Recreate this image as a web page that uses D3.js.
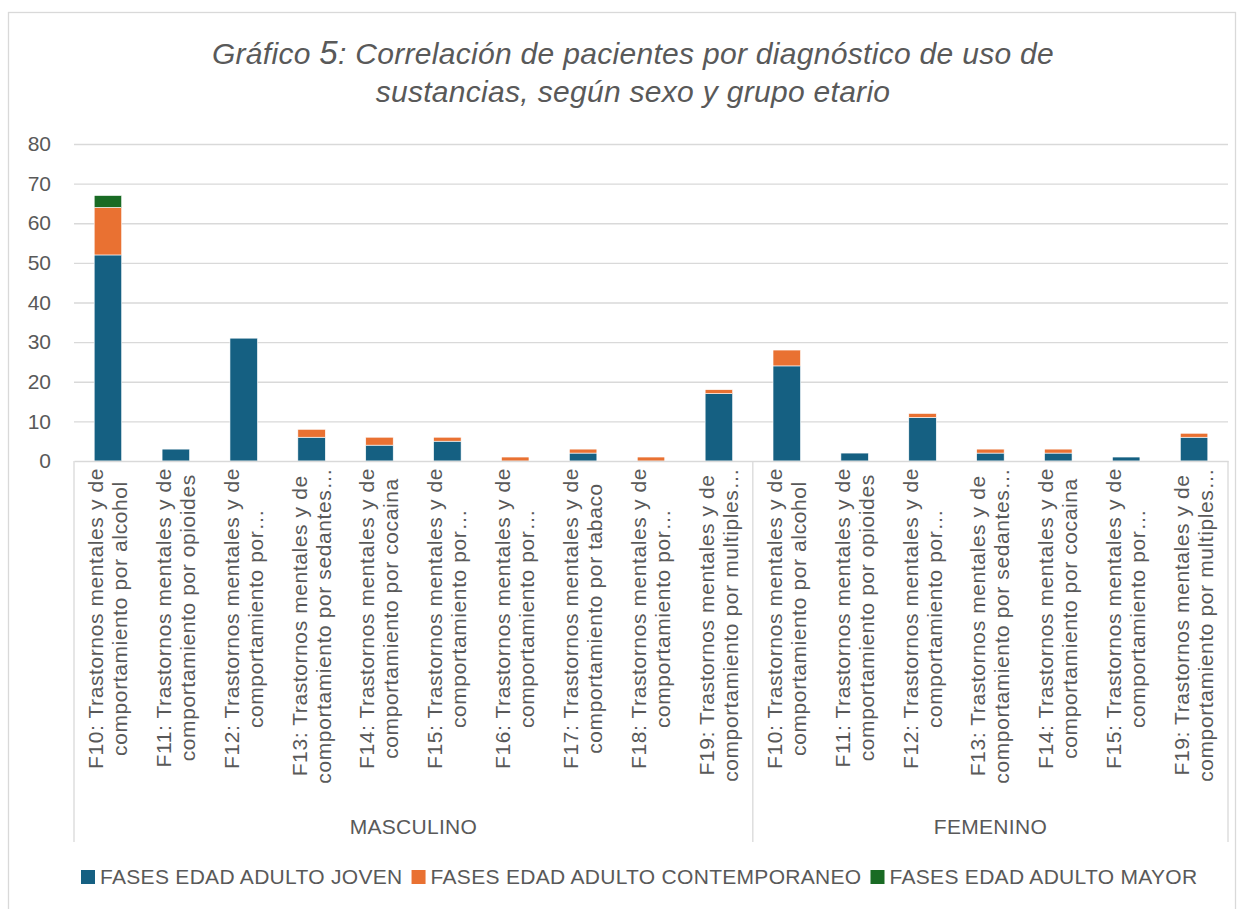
<!DOCTYPE html>
<html>
<head>
<meta charset="utf-8">
<script src="https://cdn.jsdelivr.net/npm/d3@7"></script>
<style>
  body { margin: 0; background: #fff; }
  text { font-family: "Liberation Sans", Arial, sans-serif; fill: #595959; }
  .grid line { stroke: #d9d9d9; stroke-width: 1.3; }
  .grid path { display: none; }
</style>
</head>
<body>
<script>
// category labels (two lines each), grouped by sexo
var labelLines = [
  ["F10: Trastornos mentales y de", "comportamiento por alcohol"],
  ["F11: Trastornos mentales y de", "comportamiento por opioides"],
  ["F12: Trastornos mentales y de", "comportamiento por\u2026"],
  ["F13: Trastornos mentales y de", "comportamiento por sedantes\u2026"],
  ["F14: Trastornos mentales y de", "comportamiento por cocaina"],
  ["F15: Trastornos mentales y de", "comportamiento por\u2026"],
  ["F16: Trastornos mentales y de", "comportamiento por\u2026"],
  ["F17: Trastornos mentales y de", "comportamiento por  tabaco"],
  ["F18: Trastornos mentales y de", "comportamiento por\u2026"],
  ["F19: Trastornos mentales y de", "comportamiento por multiples\u2026"],
  ["F10: Trastornos mentales y de", "comportamiento por alcohol"],
  ["F11: Trastornos mentales y de", "comportamiento por opioides"],
  ["F12: Trastornos mentales y de", "comportamiento por\u2026"],
  ["F13: Trastornos mentales y de", "comportamiento por sedantes\u2026"],
  ["F14: Trastornos mentales y de", "comportamiento por cocaina"],
  ["F15: Trastornos mentales y de", "comportamiento por\u2026"],
  ["F19: Trastornos mentales y de", "comportamiento por multiples\u2026"]
];
var groups = ["MASCULINO", "FEMENINO"];
var groupSizes = [10, 7];

var seriesNames = ["FASES EDAD ADULTO JOVEN", "FASES EDAD ADULTO CONTEMPORANEO", "FASES EDAD ADULTO MAYOR"];
var seriesColors = ["#156082", "#e97132", "#196b24"];

var joven         = [52, 3, 31, 6, 4, 5, 0, 2, 0, 17, 24, 2, 11, 2, 2, 1, 6];
var contemporaneo = [12, 0, 0, 2, 2, 1, 1, 1, 1, 1, 4, 0, 1, 1, 1, 0, 1];
var mayor         = [3, 0, 0, 0, 0, 0, 0, 0, 0, 0, 0, 0, 0, 0, 0, 0, 0];

var yTicks = [0, 10, 20, 30, 40, 50, 60, 70, 80];

var W = 1245, H = 909;
var plot = {left: 74, right: 1228, top: 144, bottom: 461};

var svg = d3.select("body").append("svg")
    .attr("width", W)
    .attr("height", H);

// chart border
svg.append("rect")
    .attr("x", 8.5).attr("y", 12.5)
    .attr("width", 1227).attr("height", 910)
    .attr("fill", "#fff")
    .attr("stroke", "#d9d9d9")
    .attr("stroke-width", 1.3);

// title
var title = svg.append("text")
    .attr("x", 633)
    .attr("text-anchor", "middle")
    .style("font-style", "italic")
    .style("font-size", "30px")
    .style("letter-spacing", "0.3px");
var t1 = title.append("tspan").attr("x", 633).attr("y", 64);
t1.append("tspan").text("Gráfico ");
t1.append("tspan").style("font-size", "33px").text("5");
t1.append("tspan").text(": Correlación de pacientes por diagnóstico de uso de");
title.append("tspan").attr("x", 633).attr("y", 102)
    .text("sustancias, según sexo y grupo etario");

var table = joven.map(function(d, i) {
  return {i: i, joven: d, contemporaneo: contemporaneo[i], mayor: mayor[i]};
});

var x = d3.scaleBand()
    .domain(d3.range(joven.length))
    .range([plot.left, plot.right])
    .paddingInner(0.595)
    .paddingOuter(0.2975);

var y = d3.scaleLinear()
    .domain([0, 80])
    .range([plot.bottom, plot.top]);

// gridlines
svg.append("g")
    .attr("class", "grid")
    .attr("transform", "translate(" + plot.left + ",0)")
    .call(d3.axisLeft(y).tickValues(yTicks.slice(1))
        .tickSize(-(plot.right - plot.left)).tickFormat(""));

// y axis labels
var yAxis = svg.append("g")
    .attr("transform", "translate(" + (plot.left - 23) + ",0)")
    .call(d3.axisLeft(y).tickValues(yTicks).tickSize(0).tickPadding(0));
yAxis.select(".domain").remove();
yAxis.selectAll("text")
    .style("font-size", "21px")
    .style("font-family", "'Liberation Sans', Arial, sans-serif")
    .attr("fill", "#595959");

// stacked bars
var stack = d3.stack().keys(["joven", "contemporaneo", "mayor"]);
var layers = stack(table);

svg.append("g").selectAll("g")
  .data(layers)
  .enter().append("g")
    .attr("fill", function(d, i) { return seriesColors[i]; })
  .selectAll("rect")
  .data(function(d) { return d.filter(function(s) { return s[1] - s[0] > 0; }); })
  .enter().append("rect")
    .attr("x", function(d) { return x(d.data.i); })
    .attr("y", function(d) { return y(d[1]); })
    .attr("width", x.bandwidth())
    .attr("height", function(d) { return y(d[0]) - y(d[1]); })
    .attr("stroke", "#fff")
    .attr("stroke-width", 0.6);

// x axis line
var xAxis = svg.append("g")
    .attr("transform", "translate(0," + plot.bottom + ")")
    .call(d3.axisBottom(x).tickSize(0).tickFormat(""));
xAxis.select(".domain")
    .attr("stroke", "#d9d9d9")
    .attr("stroke-width", 1.3);

// category labels, rotated
var lineGap = 24;
var labelTop = plot.bottom + 7;
var cat = svg.append("g").selectAll("g")
  .data(labelLines)
  .enter().append("g");

cat.each(function(lines, i) {
  var g = d3.select(this);
  var t = g.append("text")
      .attr("text-anchor", "middle")
      .style("font-size", "21px")
      .style("letter-spacing", "0.6px");
  lines.forEach(function(s, k) {
    t.append("tspan")
        .attr("x", 0)
        .attr("y", (k - (lines.length - 1) / 2) * lineGap + 7)
        .text(s);
  });
  var maxLen = 0;
  t.selectAll("tspan").each(function() {
    maxLen = Math.max(maxLen, this.getComputedTextLength());
  });
  var cx = x(i) + x.bandwidth() / 2;
  g.attr("transform", "translate(" + cx + "," + (labelTop + maxLen / 2) + ") rotate(-90)");
});

// group separators and labels
var step = x.step();
var bounds = [plot.left];
var acc = 0;
groupSizes.forEach(function(n) {
  acc += n;
  bounds.push(plot.left + acc * step);
});

svg.append("g").selectAll("line")
  .data(bounds)
  .enter().append("line")
    .attr("x1", function(d) { return d; })
    .attr("x2", function(d) { return d; })
    .attr("y1", plot.bottom)
    .attr("y2", 842)
    .attr("stroke", "#d9d9d9")
    .attr("stroke-width", 1.3);

svg.append("g").selectAll("text")
  .data(groups)
  .enter().append("text")
    .attr("x", function(d, i) { return (bounds[i] + bounds[i + 1]) / 2; })
    .attr("y", 834)
    .attr("text-anchor", "middle")
    .style("font-size", "21px")
    .style("letter-spacing", "0.3px")
    .text(function(d) { return d; });

// legend
var legend = svg.append("g").attr("transform", "translate(0,870)");
var lx = 81;
seriesNames.forEach(function(name, i) {
  legend.append("rect")
      .attr("x", lx).attr("y", 0)
      .attr("width", 14).attr("height", 14)
      .attr("fill", seriesColors[i]);
  var t = legend.append("text")
      .attr("x", lx + 19)
      .attr("y", 14)
      .style("font-size", "21px")
      .style("letter-spacing", "0.3px")
      .text(name);
  lx += 19 + t.node().getComputedTextLength() + 9;
});
</script>
</body>
</html>
